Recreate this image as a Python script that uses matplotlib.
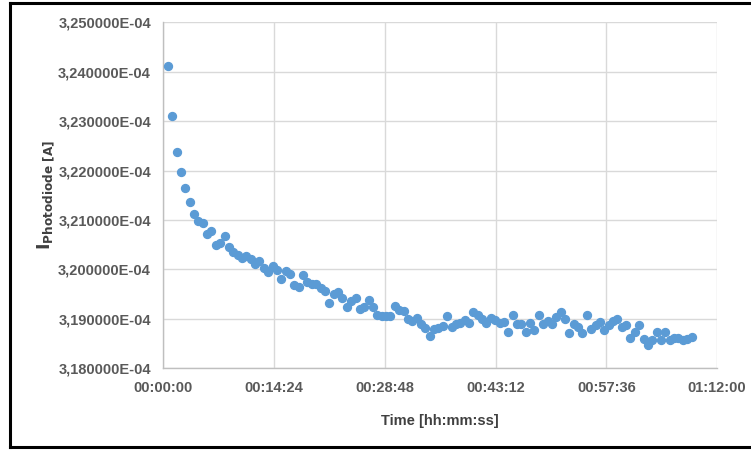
#!/usr/bin/env python3
"""Photodiode current drift over ~70 min (scatter, Excel-style)."""

import matplotlib
matplotlib.use("Agg")
import matplotlib.pyplot as plt
from matplotlib.lines import Line2D
from matplotlib.ticker import FuncFormatter, MultipleLocator

# ---------------------------------------------------------------------------
# Data
# ---------------------------------------------------------------------------

SAMPLE_INTERVAL_S = 34.06  # one reading roughly every 34 s, first at t = 34 s

# photodiode current in units of 1E-04 A
CURRENT_E4 = [
    3.2412, 3.2311, 3.2237, 3.2197, 3.2164, 3.2136, 3.2112, 3.2097, 3.2094, 3.2071,
    3.2078, 3.2049, 3.2053, 3.2068, 3.2046, 3.2036, 3.2029, 3.2024, 3.2028, 3.2021,
    3.2012, 3.2018, 3.2002, 3.1995, 3.2007, 3.1999, 3.1980, 3.1996, 3.1990, 3.1969,
    3.1964, 3.1989, 3.1975, 3.1971, 3.1970, 3.1963, 3.1956, 3.1932, 3.1951, 3.1955,
    3.1943, 3.1923, 3.1936, 3.1943, 3.1919, 3.1925, 3.1938, 3.1923, 3.1907, 3.1905,
    3.1906, 3.1906, 3.1926, 3.1917, 3.1915, 3.1900, 3.1895, 3.1901, 3.1889, 3.1882,
    3.1865, 3.1880, 3.1882, 3.1886, 3.1905, 3.1884, 3.1890, 3.1892, 3.1897, 3.1892,
    3.1913, 3.1908, 3.1900, 3.1891, 3.1901, 3.1898, 3.1891, 3.1894, 3.1874, 3.1908,
    3.1890, 3.1889, 3.1874, 3.1891, 3.1878, 3.1908, 3.1890, 3.1896, 3.1890, 3.1904,
    3.1913, 3.1899, 3.1871, 3.1890, 3.1884, 3.1871, 3.1908, 3.1879, 3.1887, 3.1893,
    3.1878, 3.1888, 3.1896, 3.1900, 3.1884, 3.1887, 3.1861, 3.1874, 3.1887, 3.1859,
    3.1847, 3.1857, 3.1874, 3.1858, 3.1874, 3.1858, 3.1862, 3.1862, 3.1857, 3.1860,
    3.1864,
]

TIME_S = [(i + 1) * SAMPLE_INTERVAL_S for i in range(len(CURRENT_E4))]

X_TICK_STEP_S = 864  # 00:14:24
X_MAX_S = 4320       # 01:12:00
Y_MIN, Y_MAX, Y_STEP = 3.18e-4, 3.25e-4, 0.01e-4

# ---------------------------------------------------------------------------
# Styling
# ---------------------------------------------------------------------------

FONT = ["Liberation Sans Narrow", "Liberation Sans", "DejaVu Sans"]
TEXT_COLOUR = "#595959"
GRID_COLOUR = "#d9d9d9"
AXIS_COLOUR = "#bfbfbf"
MARKER_COLOUR = "#5b9bd5"

plt.rcParams["font.family"] = FONT
plt.rcParams["mathtext.fontset"] = "dejavusans"


def fmt_time(sec, _pos=None):
    sec = int(round(sec))
    return f"{sec // 3600:02d}:{(sec % 3600) // 60:02d}:{sec % 60:02d}"


def fmt_current(val, _pos=None):
    return f"{val / 1e-4:.6f}".replace(".", ",") + "E-04"


fig = plt.figure(figsize=(7.51, 4.5), dpi=100)
ax = fig.add_axes([0.2177, 0.1816, 0.7370, 0.7688])

ax.plot(
    TIME_S,
    [v * 1e-4 for v in CURRENT_E4],
    linestyle="none",
    marker="o",
    markersize=5.7,
    markerfacecolor=MARKER_COLOUR,
    markeredgecolor=MARKER_COLOUR,
    zorder=3,
    clip_on=False,
)

ax.set_xlim(0, X_MAX_S)
ax.set_ylim(Y_MIN, Y_MAX)
ax.xaxis.set_major_locator(MultipleLocator(X_TICK_STEP_S))
ax.yaxis.set_major_locator(MultipleLocator(Y_STEP))
ax.xaxis.set_major_formatter(FuncFormatter(fmt_time))
ax.yaxis.set_major_formatter(FuncFormatter(fmt_current))

ax.grid(True, color=GRID_COLOUR, linewidth=1.0, zorder=0)
ax.set_axisbelow(True)
for side in ["top", "right"]:
    ax.spines[side].set_visible(False)
for side in ["left", "bottom"]:
    ax.spines[side].set_color(AXIS_COLOUR)
    ax.spines[side].set_linewidth(1.0)

ax.tick_params(axis="both", length=0, labelsize=10.5, labelcolor=TEXT_COLOUR, pad=9)
for lab in ax.get_xticklabels() + ax.get_yticklabels():
    lab.set_fontweight("bold")

ax.set_xlabel("Time [hh:mm:ss]", fontsize=10.5, fontweight="bold", color="#404040", labelpad=14)
ax.set_ylabel(r"$\mathbf{I}_{\mathbf{Photodiode\ [A]}}$", fontsize=12.5, color="#404040", labelpad=1)

# black frame on left, top and bottom of the picture
for xs, ys in [([0.013, 0.013], [0.006, 0.994]),
               ([0.013, 1.0], [0.994, 0.994]),
               ([0.013, 1.0], [0.006, 0.006])]:
    fig.add_artist(Line2D(xs, ys, color="black", linewidth=2.2, transform=fig.transFigure))

fig.savefig("out.png", dpi=100)
